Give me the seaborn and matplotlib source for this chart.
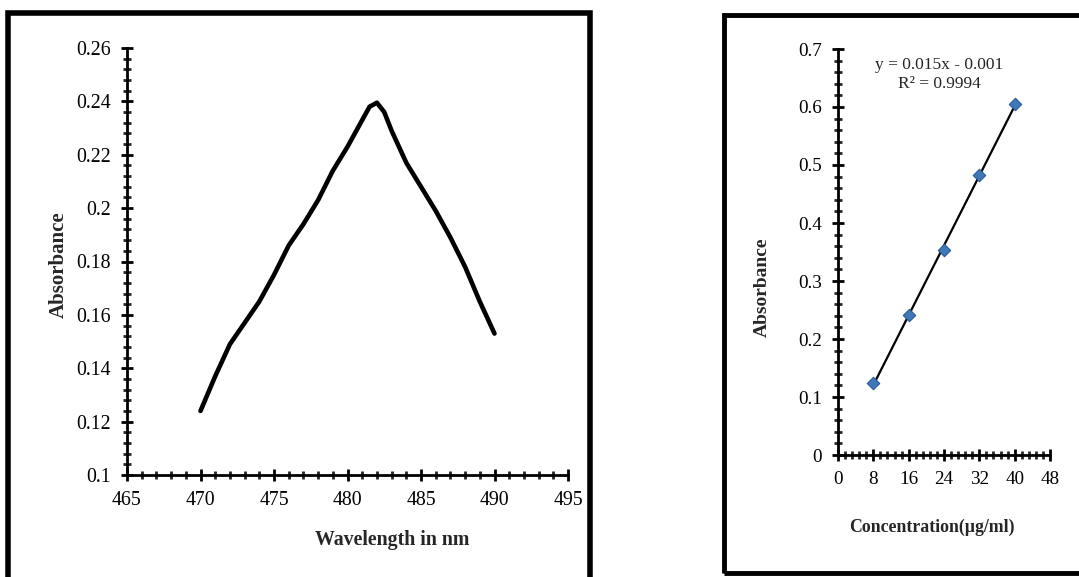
import numpy as np
import pandas as pd
import matplotlib.pyplot as plt
import matplotlib.ticker as mticker
from matplotlib.patches import Rectangle
import seaborn as sns

# absorption spectrum (left)
wavelength = [470, 471, 472, 473, 474, 475, 476, 477, 478, 479, 480,
              481, 481.5, 482, 482.5, 483, 484, 485, 486, 487, 488, 489, 490]
absorb_spec = [0.124, 0.137, 0.149, 0.157, 0.165, 0.175, 0.186, 0.194, 0.203, 0.214, 0.223,
               0.233, 0.238, 0.2395, 0.236, 0.229, 0.217, 0.208, 0.199, 0.189, 0.178, 0.165, 0.153]

# calibration curve (right)
conc = [8, 16, 24, 32, 40]
absorb_cal = [0.124, 0.241, 0.354, 0.482, 0.605]
eq_text = "y = 0.015x - 0.001\nR² = 0.9994"

sns.set_style("ticks")
plt.rcParams['font.family'] = ['Liberation Serif', 'DejaVu Serif']

fig = plt.figure(figsize=(10.79, 5.77), dpi=100)

# panel frames
fig.patches.append(Rectangle((8/1079, -0.02), (590-8)/1079, 1 - 13/577 + 0.02,
                             transform=fig.transFigure, fill=False, lw=4, ec='black'))
fig.patches.append(Rectangle((724/1079, 1 - 573/577), 0.5, (573-15)/577,
                             transform=fig.transFigure, fill=False, lw=3.5, ec='black'))


def style_ax(ax, fs):
    sns.despine(ax=ax)
    for s in ['left', 'bottom']:
        ax.spines[s].set_linewidth(2)
        ax.spines[s].set_color('black')
    ax.tick_params(which='major', direction='inout', length=9, width=2, labelsize=fs,
                   colors='black', pad=7)
    ax.tick_params(which='minor', direction='inout', length=6, width=2)
    ax.set_facecolor('white')


ax1 = fig.add_axes([127/1079, 1 - 475/577, (568-127)/1079, (475-48)/577])
df1 = pd.DataFrame({'wl': wavelength, 'abs': absorb_spec})
sns.lineplot(data=df1, x='wl', y='abs', ax=ax1, color='black', lw=3.3,
             solid_joinstyle='round', solid_capstyle='round')
ax1.set_xlim(465, 495)
ax1.set_ylim(0.1, 0.26)
ax1.xaxis.set_major_locator(mticker.MultipleLocator(5))
ax1.xaxis.set_minor_locator(mticker.MultipleLocator(1))
ax1.yaxis.set_major_locator(mticker.MultipleLocator(0.02))
ax1.yaxis.set_minor_locator(mticker.MultipleLocator(0.004))
ax1.yaxis.set_major_formatter(mticker.FuncFormatter(lambda v, p: f"{v:.2f}".rstrip('0').rstrip('.')))
style_ax(ax1, 14.3)
ax1.set_xlabel('')
ax1.set_ylabel('')
fig.text(392/1079, 1 - 540/577, 'Wavelength in nm', ha='center', va='center',
         fontsize=14.3, fontweight='bold')
fig.text(59/1079, 1 - 265/577, 'Absorbance', ha='center', va='center', rotation=90,
         fontsize=15, fontweight='bold')

ax2 = fig.add_axes([838/1079, 1 - 455/577, (1050-838)/1079, (455-49)/577])
df2 = pd.DataFrame({'c': conc, 'abs': absorb_cal})
sns.regplot(data=df2, x='c', y='abs', ax=ax2, ci=None, scatter=False, truncate=True,
            line_kws={'color': 'black', 'lw': 1.6})
sns.scatterplot(data=df2, x='c', y='abs', ax=ax2, marker='D', s=40, color='#3e78b8',
                edgecolor='#2a5a96', linewidth=0.8, zorder=3)
ax2.set_xlim(0, 48)
ax2.set_ylim(0, 0.7)
ax2.xaxis.set_major_locator(mticker.MultipleLocator(8))
ax2.xaxis.set_minor_locator(mticker.MultipleLocator(1.6))
ax2.yaxis.set_major_locator(mticker.MultipleLocator(0.1))
ax2.yaxis.set_minor_locator(mticker.MultipleLocator(0.02))
ax2.yaxis.set_major_formatter(mticker.FuncFormatter(lambda v, p: f"{v:.1f}".rstrip('0').rstrip('.') if v else '0'))
style_ax(ax2, 13.8)
ax2.set_xlabel('')
ax2.set_ylabel('')
ax2.text(22.9, 0.656, eq_text, ha='center', va='center', fontsize=12.5, linespacing=1.2)
fig.text(932/1079, 1 - 527/577, 'Concentration(µg/ml)', ha='center', va='center',
         fontsize=12.8, fontweight='bold')
fig.text(762/1079, 1 - 287/577, 'Absorbance', ha='center', va='center', rotation=90,
         fontsize=14, fontweight='bold')

fig.savefig('out.png', dpi=100, facecolor='white')
